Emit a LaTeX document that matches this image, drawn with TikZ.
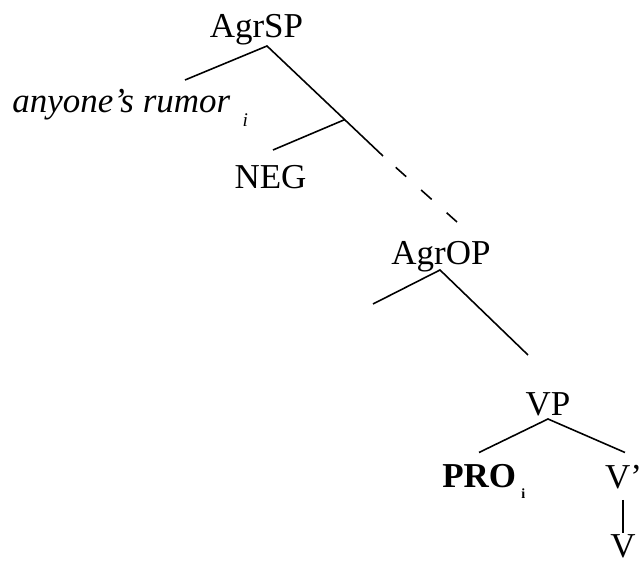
\documentclass[tikz,border=0pt]{standalone}
\usepackage{fontspec}
\setmainfont{Liberation Serif}
\newcommand{\idx}[3]{\hspace{#1}\raisebox{-#2}{\fontsize{#3}{#3}\selectfont i}}
\begin{document}
\begin{tikzpicture}[x=0.02cm, y=-0.02cm,
        ast/.style={line width=0.9pt},
        kat/.style={inner sep=0pt, anchor=base},
        font=\fontsize{19.9}{24}\selectfont]
        \useasboundingbox (0,0) rectangle (640,563);

        % Kategorien
        \node[kat] (agrsp) at (256.5,38) {AgrSP};
        \node[kat, anchor=base west] (spec) at (12,113) {\itshape anyone's rumor\idx{7pt}{7.5pt}{11pt}};
        \node[kat] (neg) at (270.5,189) {NEG};
        \node[kat] (agrop) at (441,265) {AgrOP};
        \node[kat] (vp) at (548,415.5) {VP};
        \node[kat, anchor=base west] (pro) at (442,488) {\bfseries PRO\idx{3pt}{6pt}{8pt}};
        \node[kat] (vbar) at (623.5,489) {V'};
        \node[kat] (v) at (623,558) {V};

        % Verzweigungspunkte und freie Enden
        \coordinate (sp) at (267,46);
        \coordinate (sp-l) at (185,80);
        \coordinate (sp-r) at (383,156);
        \coordinate (neg-top) at (345,119.5);
        \coordinate (neg-l) at (273,150);
        \coordinate (dash-end) at (457,222);
        \coordinate (op) at (440,270);
        \coordinate (op-l) at (373,304);
        \coordinate (op-r) at (528,355);
        \coordinate (vp-top) at (548,419);
        \coordinate (vp-l) at (479,452.5);
        \coordinate (vp-r) at (625,452.5);
        \coordinate (v-top) at (623,500);
        \coordinate (v-bot) at (623,533);

        % Aeste
        \draw[ast] (sp-l) -- (sp) -- (sp-r);
        \draw[ast] (neg-l) -- (neg-top);
        \draw[ast, dash pattern=on 8pt off 11.4pt, dash phase=9.7pt] (sp-r) -- (dash-end);
        \draw[ast] (op-l) -- (op) -- (op-r);
        \draw[ast] (vp-l) -- (vp-top) -- (vp-r);
        \draw[ast] (v-top) -- (v-bot); % V' - V

\end{tikzpicture}
\end{document}
